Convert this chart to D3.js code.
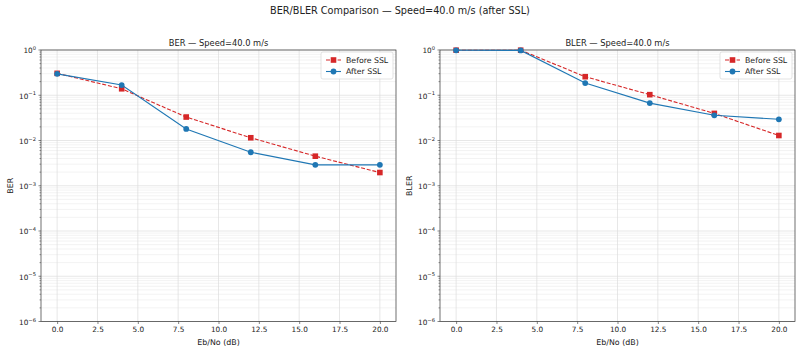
<!DOCTYPE html>
<html>
<head>
<meta charset="utf-8">
<script src="https://cdn.jsdelivr.net/npm/d3@7"></script>
<style>
  body { margin: 0; background: #fff; }
  text { font-family: "DejaVu Sans", sans-serif; fill: #222; }
</style>
</head>
<body>
<div id="chart"></div>
<script>
//Chart data
const ebno = [0, 4, 8, 12, 16, 20];
const berBefore = [0.305, 0.139, 0.033, 0.0115, 0.0045, 0.00196];
const berAfter = [0.297, 0.168, 0.018, 0.0055, 0.0029, 0.0029];
const blerBefore = [0.99, 0.99, 0.257, 0.103, 0.0397, 0.0129];
const blerAfter = [0.985, 0.98, 0.186, 0.067, 0.036, 0.0294];
const xTicks = [0, 2.5, 5, 7.5, 10, 12.5, 15, 17.5, 20];
const yExponents = [0, -1, -2, -3, -4, -5, -6];
const seriesNames = ["Before SSL", "After SSL"];

const c_width = 800;
const c_height = 351;
const red = "#d62728";
const blue = "#1f77b4";

const svg = d3.select("#chart")
              .append("svg")
              .attr("width", c_width)
              .attr("height", c_height);

//Main title
svg.append("text")
   .attr("x", 400)
   .attr("y", 14)
   .attr("text-anchor", "middle")
   .style("font-size", "9.7px")
   .text("BER/BLER Comparison \u2014 Speed=40.0 m/s (after SSL)");

function drawPanel(left, right, title, yLabel, before, after) {
  const top = 50, bottom = 321.5;

  const xScale = d3.scaleLinear().domain([-1, 21]).range([left, right]);
  const yScale = d3.scaleLog().domain([1e-6, 1]).range([bottom, top]);

  const g = svg.append("g");

  //minor horizontal grid
  const minor = [];
  for (let e = -6; e < 0; e++) {
    for (let m = 2; m <= 9; m++) minor.push(m * Math.pow(10, e));
  }
  g.selectAll(".minor-grid")
   .data(minor)
   .enter()
   .append("line")
   .attr("x1", left).attr("x2", right)
   .attr("y1", d => yScale(d)).attr("y2", d => yScale(d))
   .attr("stroke", "#ebebeb")
   .attr("stroke-width", 0.6);

  //major grid
  g.selectAll(".ymajor")
   .data(yExponents)
   .enter()
   .append("line")
   .attr("x1", left).attr("x2", right)
   .attr("y1", d => yScale(Math.pow(10, d))).attr("y2", d => yScale(Math.pow(10, d)))
   .attr("stroke", "#dcdcdc")
   .attr("stroke-width", 0.7);

  g.selectAll(".xmajor")
   .data(xTicks)
   .enter()
   .append("line")
   .attr("x1", d => xScale(d)).attr("x2", d => xScale(d))
   .attr("y1", top).attr("y2", bottom)
   .attr("stroke", "#dcdcdc")
   .attr("stroke-width", 0.7);

  //axes
  const xAxis = d3.axisBottom(xScale)
                  .tickValues(xTicks)
                  .tickFormat(d3.format(".1f"))
                  .tickSizeOuter(0)
                  .tickSize(2.5)
                  .tickPadding(2.5);
  const xg = g.append("g")
              .attr("transform", "translate(0," + bottom + ")")
              .call(xAxis);
  xg.select(".domain").remove();
  xg.selectAll("text").style("font-size", "7.3px").style("font-family", "DejaVu Sans").attr("fill", "#222");
  xg.selectAll("line").attr("stroke", "#333").attr("stroke-width", 0.6);

  //y minor ticks
  g.selectAll(".yminor-tick")
   .data(minor)
   .enter()
   .append("line")
   .attr("x1", left - 1.5).attr("x2", left)
   .attr("y1", d => yScale(d)).attr("y2", d => yScale(d))
   .attr("stroke", "#333")
   .attr("stroke-width", 0.5);

  const yt = g.selectAll(".ytick")
              .data(yExponents)
              .enter()
              .append("g")
              .attr("transform", d => "translate(" + left + "," + yScale(Math.pow(10, d)) + ")");
  yt.append("line")
    .attr("x1", -2.5).attr("x2", 0)
    .attr("stroke", "#333").attr("stroke-width", 0.6);
  const lbl = yt.append("text")
                .attr("x", -5)
                .attr("y", 3.4)
                .attr("text-anchor", "end")
                .style("font-size", "7.3px");
  lbl.append("tspan").text("10");
  lbl.append("tspan")
     .attr("dy", -3.4)
     .style("font-size", "5.2px")
     .text(d => d === 0 ? "0" : "\u2212" + Math.abs(d));

  //frame
  g.append("rect")
   .attr("x", left).attr("y", top)
   .attr("width", right - left).attr("height", bottom - top)
   .attr("fill", "none")
   .attr("stroke", "#333")
   .attr("stroke-width", 0.7);

  //titles
  g.append("text")
   .attr("x", (left + right) / 2)
   .attr("y", 45.5)
   .attr("text-anchor", "middle")
   .style("font-size", "8.3px")
   .text(title);

  g.append("text")
   .attr("x", (left + right) / 2)
   .attr("y", 344.5)
   .attr("text-anchor", "middle")
   .style("font-size", "7.9px")
   .text("Eb/No (dB)");

  g.append("text")
   .attr("transform", "translate(" + (left - 28) + "," + ((top + bottom) / 2) + ") rotate(-90)")
   .attr("text-anchor", "middle")
   .style("font-size", "7.9px")
   .text(yLabel);

  //lines
  const line = d3.line()
                 .x(d => xScale(d[0]))
                 .y(d => yScale(d[1]));
  const beforePts = ebno.map((x, i) => [x, before[i]]);
  const afterPts = ebno.map((x, i) => [x, after[i]]);

  g.append("path")
   .datum(beforePts)
   .attr("d", line)
   .attr("fill", "none")
   .attr("stroke", red)
   .attr("stroke-width", 1.1)
   .attr("stroke-dasharray", "4,1.8");
  g.selectAll(".sq")
   .data(beforePts)
   .enter()
   .append("rect")
   .attr("x", d => xScale(d[0]) - 2.8)
   .attr("y", d => yScale(d[1]) - 2.8)
   .attr("width", 5.6).attr("height", 5.6)
   .attr("fill", red);

  g.append("path")
   .datum(afterPts)
   .attr("d", line)
   .attr("fill", "none")
   .attr("stroke", blue)
   .attr("stroke-width", 1.1);
  g.selectAll(".dot")
   .data(afterPts)
   .enter()
   .append("circle")
   .attr("cx", d => xScale(d[0]))
   .attr("cy", d => yScale(d[1]))
   .attr("r", 2.9)
   .attr("fill", blue);

  //legend
  const lx = right - 75, ly = 52;
  const leg = g.append("g").attr("transform", "translate(" + lx + "," + ly + ")");
  leg.append("rect")
     .attr("width", 72).attr("height", 27)
     .attr("rx", 2)
     .attr("fill", "rgba(255,255,255,0.85)")
     .attr("stroke", "#d0d0d0")
     .attr("stroke-width", 0.6);
  seriesNames.forEach((name, i) => {
    const yy = 8 + i * 11.5;
    leg.append("line")
       .attr("x1", 5).attr("x2", 20)
       .attr("y1", yy).attr("y2", yy)
       .attr("stroke", i === 0 ? red : blue)
       .attr("stroke-width", 1.1)
       .attr("stroke-dasharray", i === 0 ? "4,1.8" : null);
    if (i === 0) {
      leg.append("rect").attr("x", 9.7).attr("y", yy - 2.8).attr("width", 5.6).attr("height", 5.6).attr("fill", red);
    } else {
      leg.append("circle").attr("cx", 12.5).attr("cy", yy).attr("r", 2.9).attr("fill", blue);
    }
    leg.append("text")
       .attr("x", 25)
       .attr("y", yy + 2.8)
       .style("font-size", "7.8px")
       .text(name);
  });
}

drawPanel(41, 396, "BER \u2014 Speed=40.0 m/s", "BER", berBefore, berAfter);
drawPanel(440, 795, "BLER \u2014 Speed=40.0 m/s", "BLER", blerBefore, blerAfter);
</script>
</body>
</html>
